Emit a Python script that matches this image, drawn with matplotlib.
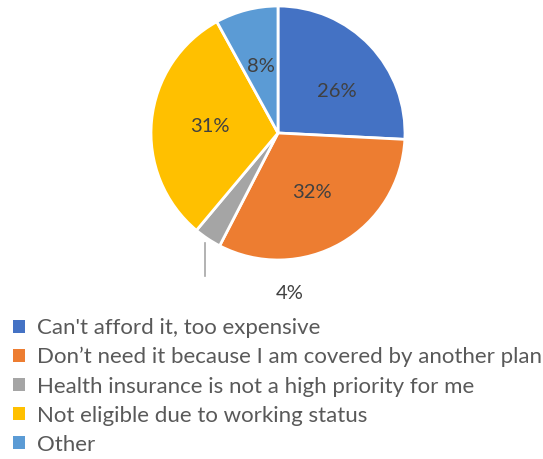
import matplotlib
matplotlib.use("Agg")
import matplotlib.pyplot as plt
from matplotlib.patches import Patch
import numpy as np

labels = ["Can't afford it, too expensive",
          "Don\u2019t need it because I am covered by another plan",
          "Health insurance is not a high priority for me",
          "Not eligible due to working status",
          "Other"]
values = [25.8, 31.8, 3.5, 30.9, 8.0]
colors = ["#4472C4", "#ED7D31", "#A5A5A5", "#FFC000", "#5B9BD5"]

plt.rcParams['font.family'] = ['Lato', 'DejaVu Sans']

W, H = 543, 459
fig = plt.figure(figsize=(W / 100, H / 100), dpi=100)
# pie centre (278,133) px, radius 127 px
R = 127.0
left_px, width_px = 108, 340
top_px, height_px = 0, 310
ax = fig.add_axes([left_px / W, (H - top_px - height_px) / H, width_px / W, height_px / H])

wedges, texts, autotexts = ax.pie(
    values, colors=colors, startangle=90, counterclock=False,
    autopct=lambda p: "%d%%" % round(p), pctdistance=0.54,
    wedgeprops=dict(edgecolor="white", linewidth=2),
    textprops=dict(color="#404040", fontsize=14.5))

# excel-ish "best fit" nudge for the first label
autotexts[0].set_position((0.46, 0.33))

# small slice: label outside with a leader line
w = wedges[2]
mid = np.deg2rad((w.theta1 + w.theta2) / 2)
x0, y0 = np.cos(mid), np.sin(mid)
ax.plot([x0 - 0.02, x0 - 0.02], [y0 - 0.03, -1.125], color="#A5A5A5", lw=1.2)
autotexts[2].set_position((0.094, -1.26))

ax.set_xlim(-width_px / 2 / R, width_px / 2 / R)
ax.set_ylim(-(height_px - 133) / R, 133 / R)
ax.axis("off")

handles = [Patch(facecolor=c, edgecolor="none") for c in colors]
fig.legend(handles, labels, loc="upper left", bbox_to_anchor=(13 / W, 1 - 318 / H),
           frameon=False, fontsize=16, labelcolor="#595959",
           handlelength=0.52, handleheight=0.52, handletextpad=0.55,
           labelspacing=0.41, borderaxespad=0, borderpad=0)

fig.savefig("out.png", dpi=100, facecolor="white")
